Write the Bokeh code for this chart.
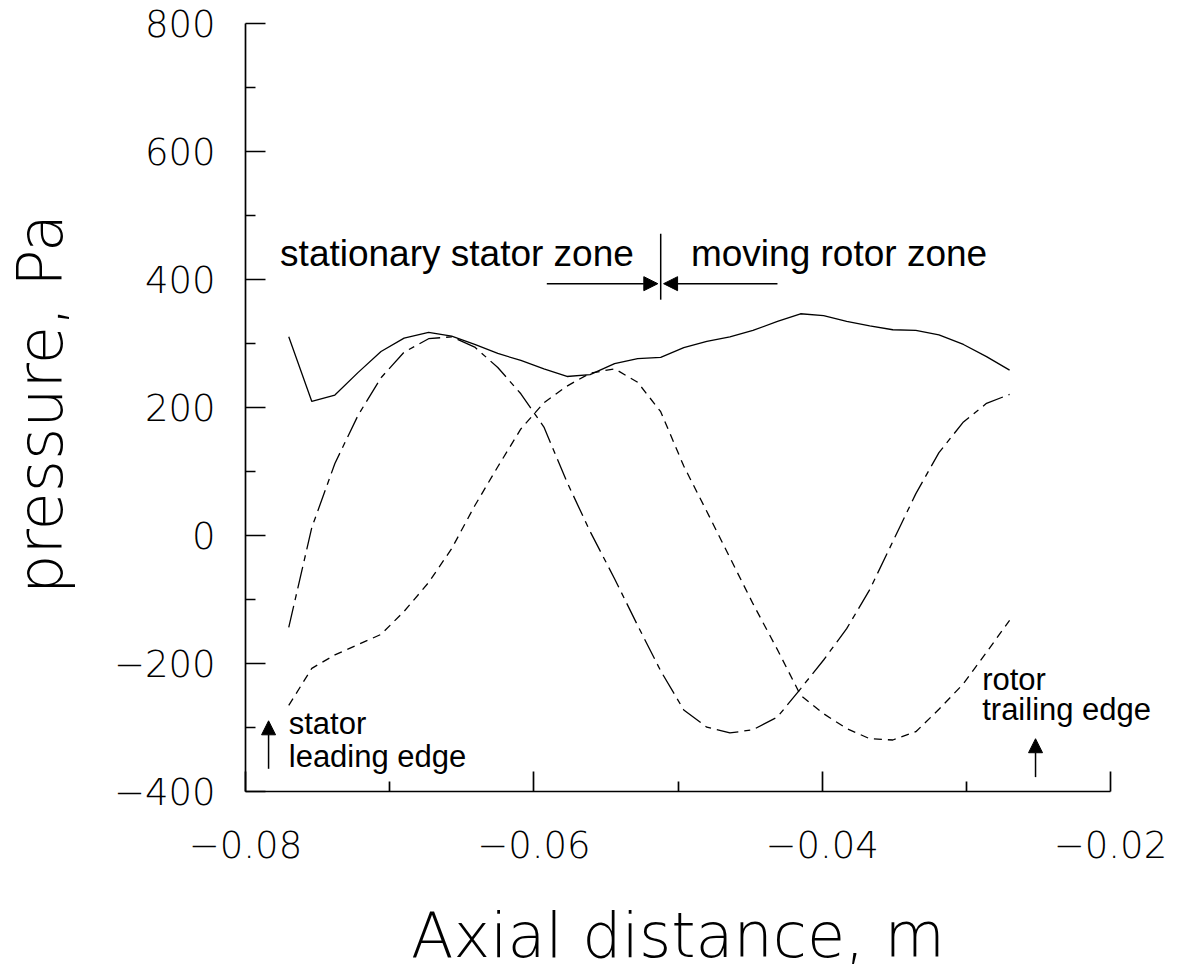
import math

from bokeh.plotting import figure
from bokeh.models import Range1d, FixedTicker, Arrow, NormalHead, Label
from bokeh.embed import file_html
from bokeh.resources import INLINE

# axial stations, m
x_axial = [-0.0770, -0.0754, -0.0738, -0.0722, -0.0706, -0.0690, -0.0673, -0.0657,
           -0.0641, -0.0625, -0.0609, -0.0593, -0.0577, -0.0561, -0.0544, -0.0528,
           -0.0512, -0.0496, -0.0480, -0.0464, -0.0448, -0.0431, -0.0415, -0.0399,
           -0.0383, -0.0367, -0.0351, -0.0335, -0.0319, -0.0302, -0.0286, -0.0270]

# pressure, Pa
p_solid = [310, 209, 219, 254, 287, 308, 317, 311, 298, 284, 273, 260, 248, 251, 268, 276,
           278, 293, 303, 310, 320, 334, 346, 343, 334, 327, 321, 320, 313, 298, 279, 258]
p_dashdot = [-144, 12, 112, 187, 246, 286, 307, 310, 294, 262, 221, 169, 83, 6, -68, -141,
             -212, -273, -300, -309, -304, -284, -240, -195, -146, -85, -10, 65, 129, 177, 206, 220]
p_dashed = [-266, -208, -187, -171, -155, -119, -74, -21, 46, 107, 166, 207, 233, 253, 260, 239,
            193, 108, 37, -35, -107, -179, -250, -279, -302, -318, -320, -307, -272, -232, -183, -133]

x_major = [-0.08, -0.06, -0.04, -0.02]
x_minor = [-0.07, -0.05, -0.03]
x_labels = ["\u22120.08", "\u22120.06", "\u22120.04", "\u22120.02"]
y_major = [-400, -200, 0, 200, 400, 600, 800]
y_minor = [-300, -100, 100, 300, 500, 700]
y_labels = ["\u2212400", "\u2212200", "0", "200", "400", "600", "800"]

THIN = "'DejaVu Sans ExtraLight', 'DejaVu Sans Light', 'DejaVu Sans', sans-serif"
HELV = "'Liberation Sans', Arial, sans-serif"

W, H = 1178, 971
# the drawing area fills the whole canvas; the axes sit at fixed positions inside it
AX_LEFT, AX_RIGHT, AX_TOP, AX_BOTTOM = 245.0, 1110.0, 22.7, 790.7
sx = (x_major[-1] - x_major[0]) / (AX_RIGHT - AX_LEFT)
sy = (y_major[-1] - y_major[0]) / (AX_BOTTOM - AX_TOP)
x_lo = x_major[0] - AX_LEFT * sx
y_hi = y_major[-1] + AX_TOP * sy

p = figure(width=W, height=H,
           x_range=Range1d(x_lo, x_lo + W * sx), y_range=Range1d(y_hi - H * sy, y_hi),
           output_backend="svg", toolbar_location=None,
           min_border=0, min_border_left=0, min_border_right=0,
           min_border_top=0, min_border_bottom=0)
p.outline_line_color = None
p.grid.visible = False
p.background_fill_color = "white"
p.border_fill_color = "white"

p.xaxis.ticker = FixedTicker(ticks=x_major, minor_ticks=x_minor)
p.yaxis.ticker = FixedTicker(ticks=y_major, minor_ticks=y_minor)
p.xaxis.major_label_overrides = dict(zip(x_major, x_labels))
p.yaxis.major_label_overrides = dict(zip(y_major, y_labels))
p.xaxis.bounds = (x_major[0], x_major[-1])
p.yaxis.bounds = (y_major[0], y_major[-1])
p.xaxis.fixed_location = y_major[0]
p.yaxis.fixed_location = x_major[0]

for ax in (p.xaxis[0], p.yaxis[0]):
    ax.axis_line_width = 1.7
    ax.axis_line_color = "black"
    ax.major_tick_line_width = 1.7
    ax.minor_tick_line_width = 1.7
    ax.major_tick_line_color = "black"
    ax.minor_tick_line_color = "black"
    ax.major_tick_in = 20
    ax.major_tick_out = 0
    ax.minor_tick_in = 10
    ax.minor_tick_out = 0
    ax.major_label_text_font = THIN
    ax.major_label_text_font_size = "37px"
    ax.major_label_text_color = "black"

p.xaxis.major_label_standoff = 40
p.yaxis.major_label_standoff = 30

# axis titles
p.add_layout(Label(x=-0.05, y=y_major[0], y_offset=-144,
                   text="Axial distance, m", text_font=THIN, text_font_size="62px",
                   text_color="black", text_align="center", text_baseline="alphabetic"))
p.add_layout(Label(x=x_major[0], y=205, x_offset=-205, angle=math.pi / 2,
                   text="pressure, Pa", text_font=THIN, text_font_size="62px",
                   text_color="black", text_align="center", text_baseline="alphabetic"))

p.line(x_axial, p_solid, line_color="black", line_width=1.3)
p.line(x_axial, p_dashdot, line_color="black", line_width=1.3, line_dash="22 6 6 6")
p.line(x_axial, p_dashed, line_color="black", line_width=1.3, line_dash="8 6")

# stator / rotor interface marker and zone arrows
split_x = -0.0512
p.segment(x0=[split_x], y0=[368], x1=[split_x], y1=[471], line_color="black", line_width=1.5)


def arrow(x0, y0, x1, y1):
    p.add_layout(Arrow(start=None,
                       end=NormalHead(size=14, fill_color="black", line_color="black", line_width=1),
                       x_start=x0, y_start=y0, x_end=x1, y_end=y1,
                       line_color="black", line_width=1.5))


arrow(-0.0591, 393, -0.0514, 393)
arrow(-0.0431, 393, -0.0510, 393)
arrow(-0.0784, -365, -0.0784, -290)
arrow(-0.0252, -378, -0.0252, -318)


def note(x, y, text, size, lift):
    p.add_layout(Label(x=x, y=y, y_offset=lift, text=text, text_font=HELV,
                       text_font_size=size, text_color="black",
                       text_align="left", text_baseline="alphabetic"))


note(-0.0776, 424, "stationary stator zone", "37px", 10)
note(-0.0491, 424, "moving rotor zone", "37px", 10)
note(-0.0770, -308, "stator", "31px", 9)
note(-0.0770, -360, "leading edge", "31px", 9)
note(-0.0289, -240, "rotor", "31px", 9)
note(-0.0289, -287, "trailing edge", "31px", 9)

open("out.html", "w").write(file_html(p, INLINE))
